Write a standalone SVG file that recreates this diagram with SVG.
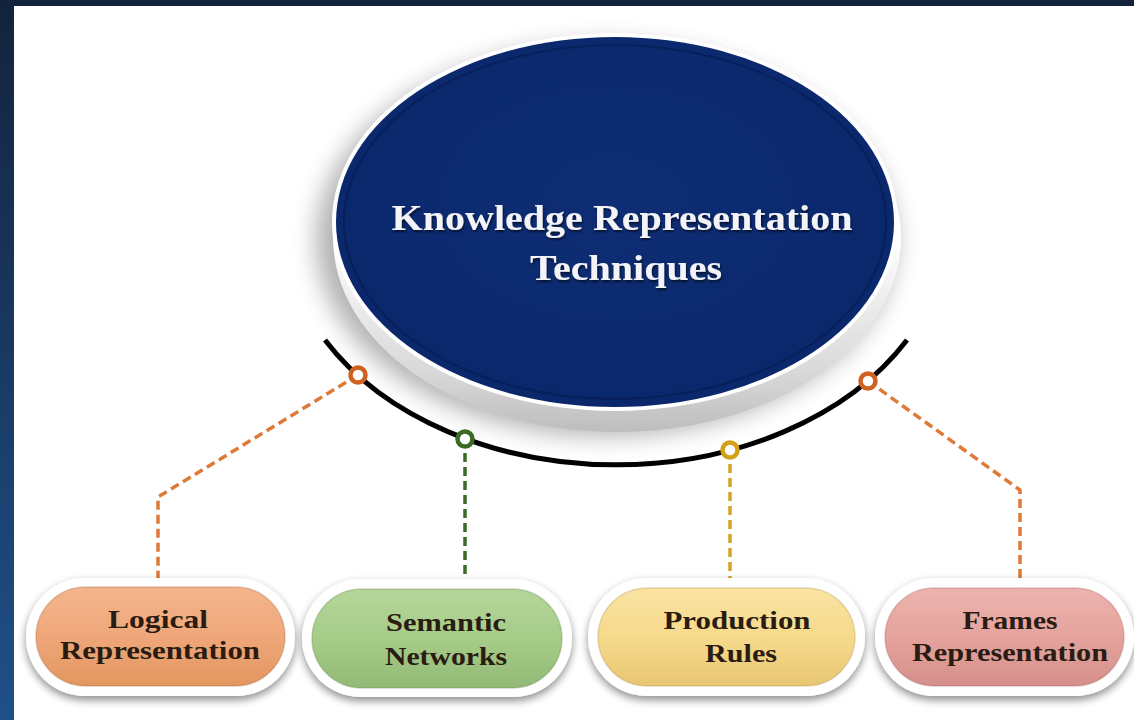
<svg xmlns="http://www.w3.org/2000/svg" width="1134" height="720" viewBox="0 0 1134 720">
  <defs>
    <linearGradient id="frameGrad" x1="0" y1="0" x2="0" y2="1">
      <stop offset="0" stop-color="#13233d"/>
      <stop offset="1" stop-color="#1f5089"/>
    </linearGradient>
    <linearGradient id="sideGrad" x1="0" y1="0" x2="0" y2="1">
      <stop offset="0.5" stop-color="#ffffff"/>
      <stop offset="0.85" stop-color="#d8d8d8"/>
      <stop offset="1" stop-color="#bdbdbd"/>
    </linearGradient>
    <radialGradient id="navyGrad" cx="0.5" cy="0.45" r="0.6">
      <stop offset="0" stop-color="#0e2d74"/>
      <stop offset="1" stop-color="#0a276b"/>
    </radialGradient>
    <linearGradient id="gOrange" x1="0" y1="0" x2="0" y2="1">
      <stop offset="0" stop-color="#f4b58c"/>
      <stop offset="0.5" stop-color="#efa77a"/>
      <stop offset="1" stop-color="#e3975f"/>
    </linearGradient>
    <linearGradient id="gGreen" x1="0" y1="0" x2="0" y2="1">
      <stop offset="0" stop-color="#b5d69a"/>
      <stop offset="0.5" stop-color="#a6cc88"/>
      <stop offset="1" stop-color="#92b976"/>
    </linearGradient>
    <linearGradient id="gYellow" x1="0" y1="0" x2="0" y2="1">
      <stop offset="0" stop-color="#fae3a2"/>
      <stop offset="0.5" stop-color="#f6da8c"/>
      <stop offset="1" stop-color="#e8c673"/>
    </linearGradient>
    <linearGradient id="gPink" x1="0" y1="0" x2="0" y2="1">
      <stop offset="0" stop-color="#ecb3ae"/>
      <stop offset="0.5" stop-color="#e5a39e"/>
      <stop offset="1" stop-color="#d58f8a"/>
    </linearGradient>
    <filter id="discShadow" x="-20%" y="-20%" width="140%" height="140%">
      <feGaussianBlur stdDeviation="12"/>
    </filter>
    <filter id="pillShadow" x="-10%" y="-20%" width="120%" height="150%">
      <feGaussianBlur in="SourceAlpha" stdDeviation="4"/>
      <feOffset dx="0" dy="4" result="b"/>
      <feComponentTransfer><feFuncA type="linear" slope="0.45"/></feComponentTransfer>
      <feMerge><feMergeNode/><feMergeNode in="SourceGraphic"/></feMerge>
    </filter>
    <filter id="textShadow" x="-5%" y="-20%" width="110%" height="150%">
      <feGaussianBlur in="SourceAlpha" stdDeviation="1"/>
      <feOffset dx="1" dy="1.5"/>
      <feComponentTransfer><feFuncA type="linear" slope="0.6"/></feComponentTransfer>
      <feMerge><feMergeNode/><feMergeNode in="SourceGraphic"/></feMerge>
    </filter>
  </defs>
  <style>
    .title { font-family: "Liberation Serif", "Times New Roman", serif; font-weight: bold; font-size: 36px; fill: #f3f3f8; text-anchor: middle; }
    .lbl { font-family: "Liberation Serif", "Times New Roman", serif; font-weight: bold; font-size: 25px; fill: #2a1c12; text-anchor: middle; }
    .outer { fill: #ffffff; }
    .inner { stroke-width: 1.5; stroke-opacity: 0.3; }
    .dash { fill: none; stroke-width: 3.5; stroke-dasharray: 9 5; }
    .dot { fill: #ffffff; stroke-width: 4.5; }
  </style>

  <!-- frame background -->
  <rect x="0" y="0" width="1134" height="720" fill="url(#frameGrad)"/>
  <rect x="0" y="0" width="1134" height="6" fill="#13233d"/>
  <rect x="14" y="6" width="1120" height="714" fill="#ffffff"/>

  <!-- central disc -->
  <g id="center">
    <ellipse cx="606" cy="240" rx="290" ry="196" fill="#000" opacity="0.3" filter="url(#discShadow)"/>
    <ellipse cx="617" cy="238" rx="284" ry="194" fill="url(#sideGrad)"/>
    <ellipse cx="615" cy="222" rx="283" ry="189" fill="#ffffff"/>
    <ellipse cx="615" cy="222" rx="279" ry="185" fill="url(#navyGrad)"/>
    <ellipse cx="615" cy="222" rx="271" ry="177" fill="none" stroke="#061a4e" stroke-width="2" opacity="0.6"/>
    <g filter="url(#textShadow)">
      <text class="title" x="622" y="230" textLength="461" lengthAdjust="spacingAndGlyphs">Knowledge Representation</text>
      <text class="title" x="626" y="280" textLength="192" lengthAdjust="spacingAndGlyphs">Techniques</text>
    </g>
  </g>

  <!-- connectors -->
  <g id="connectors">
    <path d="M325,340 A333,243 0 0 0 907,340" fill="none" stroke="#000" stroke-width="5"/>
    <path class="dash" d="M358,375 L158,497 L158,578" stroke="#de7a38"/>
    <path class="dash" d="M465,439 L465,580" stroke="#3d6a28"/>
    <path class="dash" d="M730,450 L730,580" stroke="#d6a328"/>
    <path class="dash" d="M868,381 L1020,490 L1020,580" stroke="#de7a38"/>
    <circle class="dot" cx="358" cy="375" r="7.5" stroke="#cf6220"/>
    <circle class="dot" cx="465" cy="439" r="7.5" stroke="#3b6a24"/>
    <circle class="dot" cx="730" cy="450" r="7.5" stroke="#d4a018"/>
    <circle class="dot" cx="868" cy="381" r="7.5" stroke="#cf6220"/>
  </g>

  <!-- nodes -->
  <g id="logical">
    <rect class="outer" x="26" y="578" width="269" height="118" rx="59" filter="url(#pillShadow)"/>
    <rect class="inner" x="36" y="587" width="249" height="99" rx="49.5" fill="url(#gOrange)" stroke="#a0552a"/>
    <text class="lbl" x="158" y="628" textLength="100" lengthAdjust="spacingAndGlyphs">Logical</text>
    <text class="lbl" x="160" y="659" textLength="200" lengthAdjust="spacingAndGlyphs">Representation</text>
  </g>
  <g id="semantic">
    <rect class="outer" x="302" y="579" width="270" height="118" rx="59" filter="url(#pillShadow)"/>
    <rect class="inner" x="312" y="589" width="250" height="99" rx="49.5" fill="url(#gGreen)" stroke="#5a7f3c"/>
    <text class="lbl" x="446" y="631" textLength="120" lengthAdjust="spacingAndGlyphs">Semantic</text>
    <text class="lbl" x="446" y="665" textLength="122" lengthAdjust="spacingAndGlyphs">Networks</text>
  </g>
  <g id="production">
    <rect class="outer" x="588" y="578" width="277" height="118" rx="59" filter="url(#pillShadow)"/>
    <rect class="inner" x="598" y="588" width="257" height="98" rx="49" fill="url(#gYellow)" stroke="#a88a3a"/>
    <text class="lbl" x="737" y="629" textLength="147" lengthAdjust="spacingAndGlyphs">Production</text>
    <text class="lbl" x="741" y="662" textLength="72" lengthAdjust="spacingAndGlyphs">Rules</text>
  </g>
  <g id="frames">
    <rect class="outer" x="875" y="578" width="259" height="118" rx="59" filter="url(#pillShadow)"/>
    <rect class="inner" x="885" y="588" width="239" height="98" rx="49" fill="url(#gPink)" stroke="#9a5a56"/>
    <text class="lbl" x="1010" y="629" textLength="95" lengthAdjust="spacingAndGlyphs">Frames</text>
    <text class="lbl" x="1010" y="661" textLength="196" lengthAdjust="spacingAndGlyphs">Representation</text>
  </g>
</svg>
